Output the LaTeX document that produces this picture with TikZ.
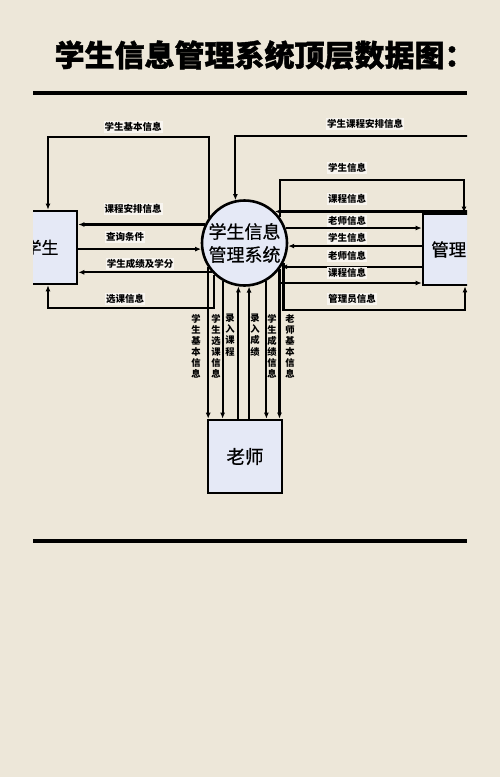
\documentclass[tikz,border=0pt]{standalone}
\usepackage{fontspec,xcolor}
\setmainfont{Noto Sans CJK SC}
\usetikzlibrary{arrows.meta}
\definecolor{paper}{RGB}{237,231,217}
\definecolor{boxfill}{RGB}{229,233,246}
\tikzset{
	flow/.style={line width=2.1pt},
	lab/.style={font=\fontsize{9.5}{10}\selectfont\bfseries, fill=paper!40!white, inner sep=1pt},
	vlab/.style={font=\fontsize{9.3}{11.1}\selectfont\bfseries, align=center, inner sep=0pt, anchor=north},
	ent/.style={draw, line width=2.6pt, fill=boxfill, inner sep=0pt},
}

\begin{document}
\begin{tikzpicture}[x=1pt,y=-1pt,>={Latex[length=6pt,width=5pt]}]
	\fill[paper] (0,0) rectangle (500,777);
	\useasboundingbox (0,0) rectangle (500,777);

	\node[anchor=west,font=\fontsize{30}{30}\selectfont\bfseries\addfontfeatures{FakeBold=1.2}] (title) at (51,55){学生信息管理系统顶层数据图：};
	\draw[line width=4pt] (33,93)--(467,93);
	\draw[line width=3.5pt] (33,541)--(467,541);

	\begin{scope}
		\clip (33,100) rectangle (467,530);

		\node[ent,minimum width=71pt,minimum height=73pt,font=\fontsize{17}{17}\selectfont\addfontfeatures{FakeBold=0.5}] (stu) at (41.5,247.5){学生};
		\node[ent,minimum width=69pt,minimum height=71pt,font=\fontsize{17.5}{17.5}\selectfont\addfontfeatures{FakeBold=0.5}] (mgr) at (457.5,249.5){管理员};
		\node[ent,minimum width=74pt,minimum height=73pt,font=\fontsize{18.5}{18.5}\selectfont\addfontfeatures{FakeBold=0.5}] (tch) at (245,456.5){老师};
		\node[ent,circle,minimum size=85pt,align=center,font=\fontsize{18}{23}\selectfont\addfontfeatures{FakeBold=0.5}] (sys) at (244.5,243){学生信息\\管理系统};

		% student side
		\draw[flow,->] (sys.145.6) |- (48,137) -- (48,0 |- stu.north);
		\draw[flow,->] (sys.214.4) -- (sys.214.4 |- tch.north);
		\draw[flow,->] (sys.155.3) -- (stu.east |- sys.155.3);
		\draw[flow,->] (stu.east |- sys.188) -- (sys.188);
		\draw[flow,->] (sys.222.4) -- (stu.east |- sys.222.4);
		\draw[flow,->] (sys.226.7) |- (48,308) -- (48,0 |- stu.south);

		% teacher side
		\draw[flow,->] (sys.240) -- (sys.240 |- tch.north);
		\draw[flow,->] (sys.262.6 |- tch.north) -- (sys.262.6);
		\draw[flow,->] (sys.276 |- tch.north) -- (sys.276);
		\draw[flow,->] (sys.300) -- (sys.300 |- tch.north);
		\draw[flow,->] (sys.323.3) -- (sys.323.3 |- tch.north);

		% manager side
		\draw[flow,->] (490,136) -| (sys.102.8);
		\draw[flow,->] (sys.36.7) |- (464,180) -- (464,0 |- mgr.north);
		\draw[flow,->] (sys.46.1 -| 490,0) -- (sys.46.1);
		\draw[flow,->] (sys.20.4) -- (mgr.west |- sys.20.4);
		\draw[flow,->] (mgr.west |- sys.356) -- (sys.356);
		\draw[flow,->] (mgr.west |- sys.327.7) -- (sys.327.7);
		\draw[flow,->] (sys.323.3 |- 0,283) -- (mgr.west |- 0,283);
		\draw[flow,->] (sys.333.5) |- (465,310) -- (465,0 |- mgr.south);

		\node[lab] (la) at (133,127){学生基本信息};
		\node[lab] (lb) at (133,209){课程安排信息};
		\node[lab] (lc) at (125,237){查询条件};
		\node[lab] (ld) at (140,264){学生成绩及学分};
		\node[lab] (le) at (125,299){选课信息};

		\node[lab] (ra) at (365,124){学生课程安排信息};
		\node[lab] (rb) at (347,168){学生信息};
		\node[lab] (rc) at (347,199){课程信息};
		\node[lab] (rd) at (347,221){老师信息};
		\node[lab] (re) at (347,238){学生信息};
		\node[lab] (rf) at (347,256){老师信息};
		\node[lab] (rg) at (347,273){课程信息};
		\node[lab] (rh) at (352,299){管理员信息};

		\node[vlab] (va) at (196,314){学\\生\\基\\本\\信\\息};
		\node[vlab] (vb) at (216,314){学\\生\\选\\课\\信\\息};
		\node[vlab] (vc) at (230,314){录\\入\\课\\程};
		\node[vlab] (vd) at (255,314){录\\入\\成\\绩};
		\node[vlab] (ve) at (272,314){学\\生\\成\\绩\\信\\息};
		\node[vlab] (vf) at (290,314){老\\师\\基\\本\\信\\息};
	\end{scope}
\end{tikzpicture}
\end{document}
